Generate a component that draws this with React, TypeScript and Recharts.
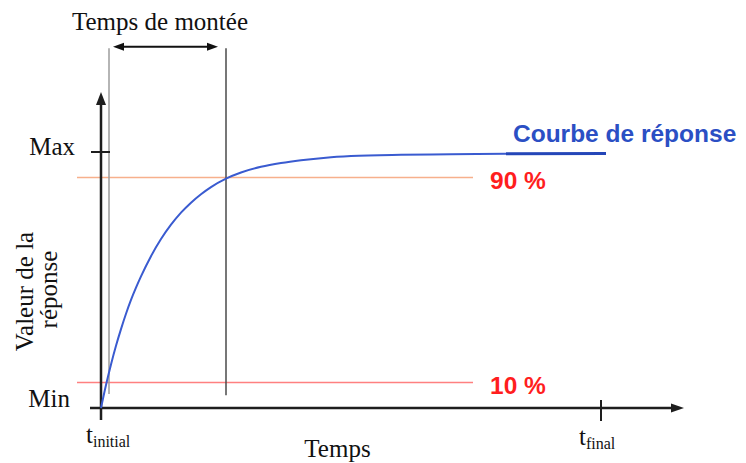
import React from 'react';
import { LineChart, Line, XAxis, YAxis, ReferenceLine, ReferenceDot } from 'recharts';

// Response curve (time units: t_initial = 0, t_final = 100; value: Min = 0, Max = 100)
const timeValues = [0, 1, 2, 3, 4, 5, 6, 7, 8, 10, 12, 14, 16, 18, 20, 22, 25, 28, 32, 36, 40, 45, 50, 60, 70, 81];
const responseValues = [0, 9, 17, 24.3, 30.8, 36.8, 42.2, 47, 51.4, 59.3, 66, 71.6, 76.3, 80.2, 83.5, 86.3, 89.6, 92, 94.2, 95.7, 96.8, 97.8, 98.4, 98.9, 99.1, 99.3];
// the thicker end of the curve, under the "Courbe de réponse" caption
const legendTimes = [81, 101];
const legendValues = [99.3, 99.4];

const thresholdLevels = [90, 10];
const thresholdLabels = ['90 %', '10 %'];
const thresholdColors = ['#f7b08c', '#ff8080'];

const yTickValues = [100, 0];
const yTickLabels = ['Max', 'Min'];
const xTickValues = [0, 100];
const xTickMain = ['t', 't'];
const xTickSub = ['initial', 'final'];

const riseStart = 1.6;
const riseEnd = 25;
const riseLabel = 'Temps de montée';
const curveLabel = 'Courbe de réponse';
const xAxisLabel = 'Temps';
const yAxisLabelLines = ['Valeur de la', 'réponse'];

const rows: any[] = [
  ...timeValues.map((t, i) => ({ t, curve: responseValues[i] })),
  ...legendTimes.map((t, i) => ({ t, legend: legendValues[i] })),
].sort((a, b) => a.t - b.t);

const SERIF = '"Liberation Serif", "Times New Roman", serif';
const SANS = '"Liberation Sans", Arial, sans-serif';
const AXIS = '#1e1e1e';

const arrowShape = (color: string, width: number, startHead: boolean, endHead: boolean, head = 12, half = 4.5) => (p: any) => {
  const { x1, y1, x2, y2 } = p;
  const dx = x2 - x1;
  const dy = y2 - y1;
  const len = Math.sqrt(dx * dx + dy * dy) || 1;
  const ux = dx / len;
  const uy = dy / len;
  const nx = -uy;
  const ny = ux;
  const headAt = (tx: number, ty: number, dir: number) => {
    const bx = tx - dir * ux * head;
    const by = ty - dir * uy * head;
    return `${tx},${ty} ${bx + nx * half},${by + ny * half} ${bx - nx * half},${by - ny * half}`;
  };
  const sx = startHead ? x1 + ux * head * 0.8 : x1;
  const sy = startHead ? y1 + uy * head * 0.8 : y1;
  const ex = endHead ? x2 - ux * head * 0.8 : x2;
  const ey = endHead ? y2 - uy * head * 0.8 : y2;
  return (
    <g>
      <line x1={sx} y1={sy} x2={ex} y2={ey} stroke={color} strokeWidth={width} />
      {startHead && <polygon points={headAt(x1, y1, -1)} fill={color} />}
      {endHead && <polygon points={headAt(x2, y2, 1)} fill={color} />}
    </g>
  );
};

const textShape = (content: React.ReactNode, opts: any) => (p: any) => (
  <text
    x={p.cx + (opts.dx || 0)}
    y={p.cy + (opts.dy || 0)}
    textAnchor={opts.anchor || 'start'}
    fontFamily={opts.family || SERIF}
    fontSize={opts.size || 25}
    fontWeight={opts.weight || 'normal'}
    fill={opts.fill || '#111'}
    transform={opts.rotate ? `rotate(${opts.rotate} ${p.cx + (opts.dx || 0)} ${p.cy + (opts.dy || 0)})` : undefined}
  >
    {content}
  </text>
);

export default function App() {
  return (
    <div style={{ position: 'absolute', left: 0, top: 0, width: 746, height: 463, background: '#fff' }}>
      <LineChart width={746} height={463} data={rows} margin={{ top: 36.8, right: 45, bottom: 29.4, left: 61 }}>
        <XAxis type="number" dataKey="t" domain={[-8, 120]} hide allowDataOverflow />
        <YAxis type="number" domain={[-10, 145]} hide allowDataOverflow />

        {/* threshold lines */}
        {thresholdLevels.map((lv, i) => (
          <ReferenceLine
            key={'th' + i}
            segment={[{ x: -4.8, y: lv }, { x: 74.4, y: lv }]}
            stroke={thresholdColors[i]}
            strokeWidth={1.5}
            ifOverflow="visible"
          />
        ))}

        {/* rise-time vertical markers */}
        <ReferenceLine segment={[{ x: riseStart, y: 5.5 }, { x: riseStart, y: 140.5 }]} stroke="#9c9c9c" strokeWidth={1.5} ifOverflow="visible" />
        <ReferenceLine segment={[{ x: riseEnd, y: 5 }, { x: riseEnd, y: 140.5 }]} stroke="#4a4a4a" strokeWidth={1.5} ifOverflow="visible" />
        <ReferenceLine
          segment={[{ x: 2.4, y: 141.1 }, { x: 23.4, y: 141.1 }]}
          ifOverflow="visible"
          shape={arrowShape('#111', 2, true, true, 11, 4)}
        />

        {/* axes with arrows */}
        <ReferenceLine
          segment={[{ x: 0, y: -4.7 }, { x: 0, y: 123.4 }]}
          ifOverflow="visible"
          shape={arrowShape(AXIS, 2.5, false, true, 13, 5)}
        />
        <ReferenceLine
          segment={[{ x: -2.2, y: 0 }, { x: 116.6, y: 0 }]}
          ifOverflow="visible"
          shape={arrowShape(AXIS, 2.5, false, true, 13, 4.5)}
        />
        <ReferenceLine segment={[{ x: -2, y: yTickValues[0] }, { x: 1.8, y: yTickValues[0] }]} stroke={AXIS} strokeWidth={2} ifOverflow="visible" />
        <ReferenceLine segment={[{ x: xTickValues[1], y: 3.1 }, { x: xTickValues[1], y: -5.1 }]} stroke={AXIS} strokeWidth={2} ifOverflow="visible" />

        {/* response curve */}
        <Line type="monotone" dataKey="curve" stroke="#3a5bd0" strokeWidth={2} dot={false} connectNulls isAnimationActive={false} />
        <Line type="linear" dataKey="legend" stroke="#2446b8" strokeWidth={3} dot={false} connectNulls isAnimationActive={false} />

        {/* y tick labels */}
        {yTickValues.map((v, i) => (
          <ReferenceDot
            key={'yt' + i}
            x={-5.2}
            y={v}
            ifOverflow="visible"
            shape={textShape(yTickLabels[i], { anchor: 'end', dy: i === 0 ? 3 : -1, dx: i === 0 ? 0 : -5 })}
          />
        ))}

        {/* x tick labels */}
        {xTickValues.map((v, i) => (
          <ReferenceDot
            key={'xt' + i}
            x={v}
            y={0}
            ifOverflow="visible"
            shape={textShape(
              <>
                <tspan>{xTickMain[i]}</tspan>
                <tspan fontSize={16} dy={4}>{xTickSub[i]}</tspan>
              </>,
              { dx: i === 0 ? -15 : -22, dy: 35 + i * 2 }
            )}
          />
        ))}

        {/* threshold labels */}
        {thresholdLevels.map((lv, i) => (
          <ReferenceDot
            key={'tl' + i}
            x={77.8}
            y={lv}
            ifOverflow="visible"
            shape={textShape(thresholdLabels[i], { family: SANS, weight: 'bold', size: 24.5, fill: '#ff1e1e', dy: 11.5 })}
          />
        ))}

        {/* captions */}
        <ReferenceDot x={11.8} y={147.7} ifOverflow="visible" shape={textShape(riseLabel, { anchor: 'middle' })} />
        <ReferenceDot x={82.4} y={104} ifOverflow="visible" shape={textShape(curveLabel, { family: SANS, weight: 'bold', size: 24.5, fill: '#2b4fc4' })} />
        <ReferenceDot x={47.3} y={-19.2} ifOverflow="visible" shape={textShape(xAxisLabel, { anchor: 'middle' })} />
        {yAxisLabelLines.map((line, i) => (
          <ReferenceDot
            key={'yl' + i}
            x={-8}
            y={45.5}
            ifOverflow="visible"
            shape={textShape(line, { anchor: 'middle', rotate: -90, dx: -28 + i * 24, dy: 0 - i * 2 })}
          />
        ))}
      </LineChart>
    </div>
  );
}
